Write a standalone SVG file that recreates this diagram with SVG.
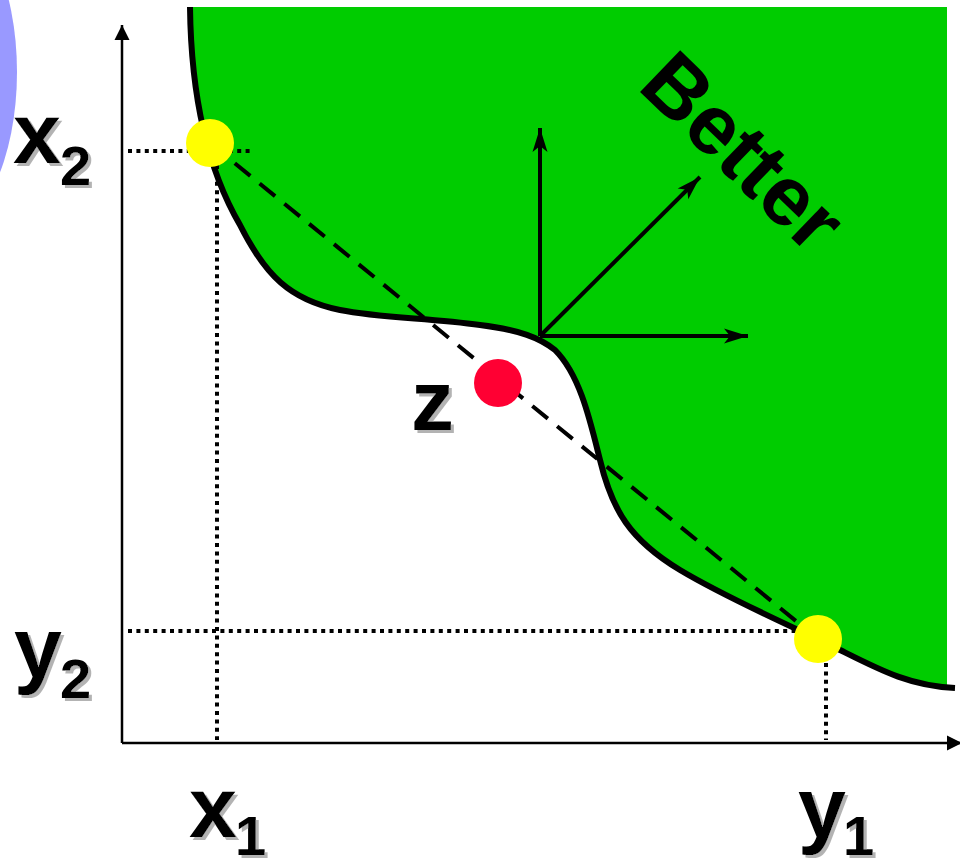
<svg xmlns="http://www.w3.org/2000/svg" width="960" height="859" viewBox="0 0 960 859">
<style>
.lbl{font-family:"Liberation Sans",Arial,sans-serif;font-weight:bold;fill:#000}
.big{font-size:86px}
.sub{font-size:56px}
.shadow{filter:url(#ds)}
.dot{fill:none;stroke:#000;stroke-width:4;stroke-dasharray:4 4.4}
.vec{fill:none;stroke:#000;stroke-width:4}
.axis{fill:none;stroke:#000;stroke-width:2.5}
</style>
<defs>
<filter id="ds" x="-20%" y="-20%" width="140%" height="140%">
<feOffset in="SourceAlpha" dx="3" dy="3" result="o"/>
<feFlood flood-color="#b3b3b3"/>
<feComposite in2="o" operator="in" result="s"/>
<feMerge><feMergeNode in="s"/><feMergeNode in="SourceGraphic"/></feMerge>
</filter>
<marker id="ah" markerUnits="userSpaceOnUse" markerWidth="30" markerHeight="20" viewBox="-26 -10 30 20" refX="0" refY="0" orient="auto">
<path d="M0,0 L-24,-7.5 L-18,0 L-24,7.5 Z" fill="#000"/>
</marker>
<marker id="axh" markerUnits="userSpaceOnUse" markerWidth="20" markerHeight="20" viewBox="-16 -10 20 20" refX="0" refY="0" orient="auto">
<path d="M0,0 L-15,-7.5 L-15,7.5 Z" fill="#000"/>
</marker>
</defs>
<ellipse id="blob" cx="-60" cy="72" rx="77" ry="160" fill="#9999ff"/>
<g id="region">
<path d="M190,7 L947,7 L947,687 C910,684 880,670 840,650 C790,625 730,600 680,570 C630,540 612,510 600,460 C590,420 580,375 555,350 C540,338 520,330 480,325 C430,318 380,318 340,310 C290,300 265,275 240,225 C205,165 191,90 190,7 Z" fill="#00cc00"/>
<path d="M190,7 C191,90 205,165 240,225 C265,275 290,300 340,310 C380,318 430,318 480,325 C520,330 540,338 555,350 C580,375 590,420 600,460 C612,510 630,540 680,570 C730,600 790,625 840,650 C880,670 910,686 955,688" fill="none" stroke="#000" stroke-width="6"/>
</g>
<g id="connectors">
<line class="axis" x1="122" y1="743" x2="122" y2="25" marker-end="url(#axh)"/>
<line class="axis" x1="122" y1="743" x2="962" y2="743" marker-end="url(#axh)"/>
<line class="dot" x1="128" y1="151" x2="250" y2="151"/>
<line class="dot" x1="217" y1="165" x2="217" y2="740"/>
<line class="dot" x1="128" y1="631" x2="800" y2="631"/>
<line class="dot" x1="826" y1="663" x2="826" y2="740"/>
<line x1="210" y1="143" x2="818" y2="639" stroke="#000" stroke-width="4" stroke-dasharray="20 12"/>
<line class="vec" x1="540" y1="336" x2="540" y2="128" marker-end="url(#ah)"/>
<line class="vec" x1="540" y1="336" x2="700" y2="177" marker-end="url(#ah)"/>
<line class="vec" x1="540" y1="336" x2="748" y2="336" marker-end="url(#ah)"/>
</g>
<g id="p1"><circle cx="210" cy="143" r="24" fill="#ffff00"/></g>
<g id="p2"><circle cx="818" cy="639" r="24" fill="#ffff00"/></g>
<g id="z"><circle cx="498" cy="383" r="24" fill="#ff0033"/>
<text class="lbl big shadow" x="411" y="430">z</text></g>
<g id="lx2" class="shadow">
<text class="lbl big" x="13" y="163">x</text><text class="lbl sub" x="60" y="185">2</text>
</g>
<g id="ly2" class="shadow">
<text class="lbl big" x="14" y="677">y</text><text class="lbl sub" x="60" y="698">2</text>
</g>
<g id="lx1" class="shadow">
<text class="lbl big" x="189" y="837">x</text><text class="lbl sub" x="235" y="855">1</text>
</g>
<g id="ly1" class="shadow">
<text class="lbl big" x="798" y="837">y</text><text class="lbl sub" x="843" y="855">1</text>
</g>
<g id="better">
<text class="lbl" font-size="84" transform="translate(636,88) rotate(44)">Better</text>
</g>
</svg>
